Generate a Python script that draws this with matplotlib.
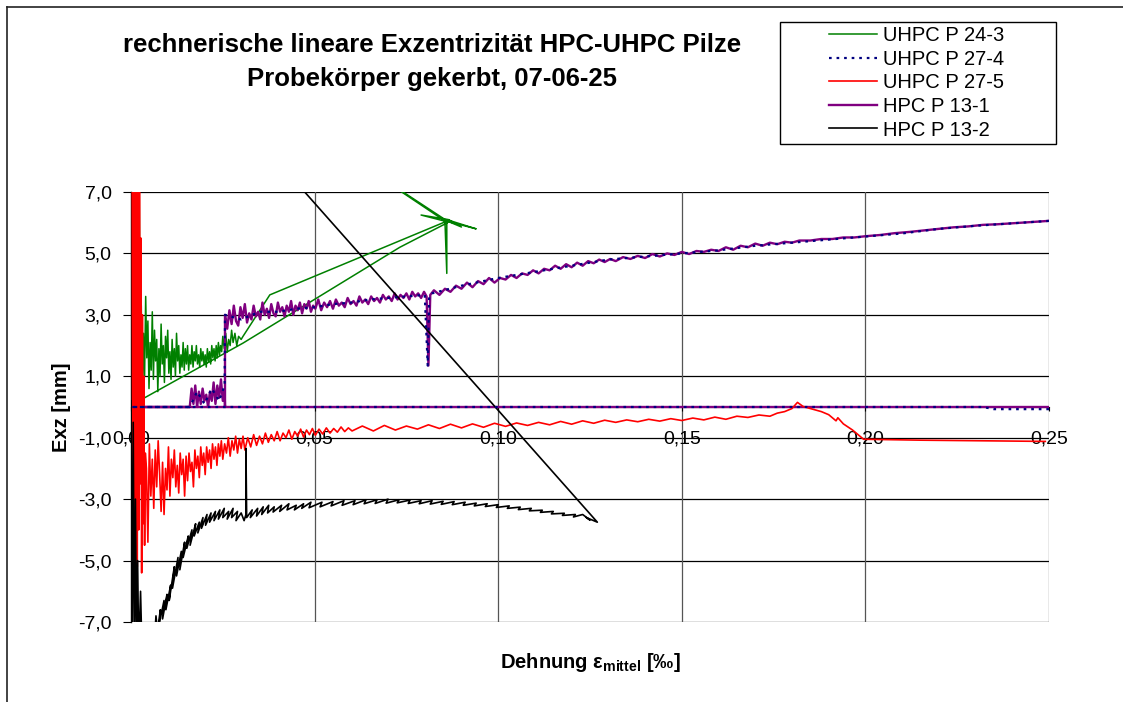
import matplotlib
matplotlib.use("Agg")
import matplotlib.pyplot as plt
from matplotlib.ticker import FuncFormatter, FixedLocator
from matplotlib.lines import Line2D
from matplotlib.patches import Rectangle

plt.rcParams['font.family'] = ['Liberation Sans', 'DejaVu Sans']
plt.rcParams['axes.unicode_minus'] = False
plt.rcParams['mathtext.fontset'] = 'custom'
plt.rcParams['mathtext.bf'] = 'Liberation Sans:bold'
plt.rcParams['mathtext.rm'] = 'Liberation Sans'

# --- Daten ---
labels = ['UHPC P 24-3', 'UHPC P 27-4', 'UHPC P 27-5', 'HPC P 13-1', 'HPC P 13-2']

# UHPC P 24-3 (gruen)
g_x = [0.0010, 0.0013, 0.0016, 0.0019, 0.0022, 0.0025, 0.0028, 0.0031, 0.0034, 0.0037,
       0.0040, 0.0043, 0.0046, 0.0049, 0.0052, 0.0055, 0.0058, 0.0061, 0.0064, 0.0067,
       0.0070, 0.0073, 0.0076, 0.0079, 0.0082, 0.0085, 0.0088, 0.0091, 0.0094, 0.0097,
       0.0100, 0.0103, 0.0106, 0.0109, 0.0112, 0.0115, 0.0118, 0.0121, 0.0124, 0.0127,
       0.0130, 0.0133, 0.0136, 0.0139, 0.0142, 0.0145, 0.0148, 0.0151, 0.0154, 0.0157,
       0.0160, 0.0163, 0.0166, 0.0169, 0.0172, 0.0175, 0.0178, 0.0181, 0.0184, 0.0187,
       0.0190, 0.0193, 0.0196, 0.0199, 0.0202, 0.0205, 0.0208, 0.0211, 0.0214, 0.0217,
       0.0220, 0.0223, 0.0226, 0.0229, 0.0232, 0.0235, 0.0238, 0.0241, 0.0244, 0.0247,
       0.0250, 0.0254, 0.0258, 0.0262, 0.0266, 0.0270, 0.0274, 0.0278, 0.0283, 0.0288,
       0.0293, 0.0300, 0.0305, 0.0378, 0.0860, 0.0940, 0.0860, 0.0860, 0.0855, 0.0790,
       0.0865, 0.0900, 0.0862, 0.0550, 0.0862, 0.0732, 0.0305, 0.0025]
g_y = [9.0, 2.5, 8.5, 0.4, 8.0, 1.5, 3.3, 0.3, 2.4, 1.0,
       3.6, 1.6, 2.8, 0.6, 2.1, 1.2, 3.1, 0.9, 2.5, 1.5,
       2.2, 0.5, 1.9, 1.0, 2.7, 1.4, 2.0, 0.8, 2.3, 1.6,
       2.5, 1.1, 1.8, 0.9, 2.2, 1.3, 1.9, 1.0, 2.4, 1.5,
       2.0, 1.1, 1.7, 1.3, 2.1, 1.2, 1.9, 1.4, 2.0, 1.2,
       1.7, 1.4, 2.0, 1.3, 1.8, 1.5, 2.0, 1.4, 1.7, 1.3,
       1.9, 1.5, 1.8, 1.4, 1.7, 1.3, 1.9, 1.5, 1.8, 1.4,
       2.0, 1.6, 1.9, 1.5, 2.0, 1.6, 2.1, 1.7, 2.0, 1.8,
       2.3, 1.9, 2.4, 1.8, 2.2, 2.0, 2.5, 2.1, 2.4, 2.0,
       2.3, 2.2, 2.3, 3.65, 6.05, 5.80, 6.10, 4.35, 6.05, 6.25,
       6.10, 5.86, 6.05, 8.5, 6.0, 5.2, 2.08, 0.22]

# UHPC P 27-4 (blau gepunktet)
b_x = [0.250, 0.235, 0.232, 0.000, 0.016, 0.018, 0.020, 0.022, 0.024, 0.0255,
       0.0256, 0.030, 0.035, 0.040, 0.045, 0.050, 0.055, 0.060, 0.065, 0.070,
       0.075, 0.080, 0.0808, 0.0812, 0.082, 0.090, 0.100, 0.110, 0.120, 0.130,
       0.140, 0.150, 0.160, 0.170, 0.180, 0.190, 0.200, 0.210, 0.220, 0.230,
       0.240, 0.250]
b_y = [-0.07, -0.07, 0.0, 0.0, 0.0, 0.5, 0.1, 0.6, 0.2, 0.7,
       3.0, 2.85, 3.1, 3.1, 3.2, 3.25, 3.35, 3.4, 3.5, 3.55,
       3.6, 3.65, 1.35, 3.6, 3.7, 3.95, 4.2, 4.4, 4.6, 4.8,
       4.9, 5.0, 5.1, 5.25, 5.35, 5.45, 5.55, 5.65, 5.8, 5.9,
       5.98, 6.06]

# UHPC P 27-5 (rot)
r_x = [0.0003, 0.0005, 0.0007, 0.0009, 0.0011, 0.0013, 0.0015, 0.0017, 0.0019, 0.0021,
       0.0023, 0.0025, 0.0027, 0.0029, 0.0031, 0.0033, 0.0035, 0.0037, 0.0039,
       0.0042, 0.0046, 0.0050, 0.0054, 0.0058, 0.0062, 0.0066, 0.0070, 0.0074, 0.0078,
       0.0082, 0.0086, 0.0090, 0.0094, 0.0098, 0.0102, 0.0106, 0.0110, 0.0114, 0.0118,
       0.0122, 0.0126, 0.0130, 0.0134, 0.0138, 0.0142, 0.0146, 0.0150, 0.0154, 0.0158,
       0.0162, 0.0166, 0.0170, 0.0174, 0.0178, 0.0182, 0.0186, 0.0190, 0.0194, 0.0198,
       0.0202, 0.0206, 0.0210, 0.0214, 0.0218, 0.0222, 0.0226, 0.0230, 0.0234, 0.0238,
       0.0242, 0.0246, 0.0250, 0.0255, 0.0260, 0.0265, 0.0270, 0.0275, 0.0280, 0.0285,
       0.0290, 0.0295, 0.0300, 0.0305, 0.0310, 0.0318, 0.0326, 0.0334, 0.0342, 0.0350,
       0.0358, 0.0366, 0.0374, 0.0382, 0.0390, 0.0398, 0.0406, 0.0414, 0.0422, 0.0430,
       0.0438, 0.0446, 0.0454, 0.0462, 0.0470, 0.0478, 0.0486, 0.0494, 0.0502, 0.0512,
       0.0522, 0.0532, 0.0542, 0.0552, 0.0562, 0.0572, 0.0582, 0.0592, 0.0602,
       0.063, 0.066, 0.069, 0.072, 0.075, 0.078, 0.081, 0.084, 0.087, 0.090,
       0.093, 0.096, 0.099, 0.102, 0.105, 0.108, 0.111, 0.114, 0.117, 0.120,
       0.123, 0.126, 0.129, 0.132, 0.135, 0.138, 0.141, 0.144, 0.147, 0.150,
       0.153, 0.156, 0.159, 0.162, 0.165, 0.168, 0.171, 0.174, 0.176, 0.178,
       0.180, 0.1815, 0.183, 0.185, 0.188, 0.190, 0.192, 0.1925, 0.194, 0.1965,
       0.1995, 0.215, 0.249]
r_y = [9.0, -4.8, 9.0, -5.9, 9.0, -3.5, 9.0, -5.2, 8.0, -4.0,
       9.0, -2.5, 5.5, -5.4, 3.0, -3.8, 1.0, -4.5, -1.5,
       -2.0, -4.4, -1.2, -2.9, -1.7, -3.3, -1.4, -2.6, -1.1, -2.2,
       -3.4, -1.8, -3.5, -2.0, -2.7, -1.3, -2.9, -1.7, -2.3, -1.4,
       -2.6, -1.9, -2.8, -1.5, -2.2, -1.7, -2.9, -1.6, -2.4, -1.5,
       -2.1, -1.8, -2.6, -1.4, -2.0, -1.6, -2.3, -1.3, -1.9, -1.5,
       -2.2, -1.3, -1.8, -1.4, -2.0, -1.2, -1.7, -1.3, -1.9, -1.2,
       -1.6, -1.1, -1.7, -1.2, -1.5, -1.0, -1.6, -1.1, -1.4, -0.95,
       -1.5, -1.05, -1.35, -0.95, -1.4, -1.0, -1.3, -0.9, -1.25, -0.95,
       -1.2, -0.85, -1.15, -0.9, -1.1, -0.8, -1.1, -0.85, -1.0, -0.75,
       -1.05, -0.8, -0.95, -0.72, -0.98, -0.75, -0.9, -0.7, -0.92, -0.72,
       -0.88, -0.68, -0.85, -0.7, -0.82, -0.65, -0.8, -0.68, -0.78,
       -0.62, -0.78, -0.6, -0.75, -0.62, -0.72, -0.58, -0.7, -0.56, -0.68,
       -0.55, -0.66, -0.53, -0.63, -0.52, -0.6, -0.5, -0.58, -0.47, -0.56,
       -0.45, -0.53, -0.43, -0.5, -0.42, -0.48, -0.4, -0.46, -0.38, -0.44,
       -0.36, -0.42, -0.33, -0.4, -0.3, -0.34, -0.26, -0.3, -0.2, -0.15,
       -0.05, 0.15, 0.02, -0.05, -0.15, -0.25, -0.45, -0.35, -0.55, -0.75,
       -1.05, -1.08, -1.12]

# HPC P 13-1 (violett)
p_x = [0.250, 0.000, 0.0160, 0.0165, 0.0170, 0.0175, 0.0180, 0.0185, 0.0190, 0.0195,
       0.0200, 0.0205, 0.0210, 0.0215, 0.0220, 0.0225, 0.0230, 0.0235, 0.0240, 0.0245,
       0.0250, 0.0255, 0.0256,
       0.0256, 0.0262, 0.0268, 0.0274, 0.0280, 0.0286, 0.0292, 0.0298, 0.0304, 0.0310,
       0.0316, 0.0322, 0.0328, 0.0334, 0.0340, 0.0346, 0.0352, 0.0358, 0.0364, 0.0370,
       0.0376, 0.0382, 0.0388, 0.0394, 0.0400, 0.0406, 0.0412, 0.0418, 0.0424, 0.0430,
       0.0436, 0.0442, 0.0448, 0.0454, 0.0460, 0.0466, 0.0472, 0.0478, 0.0484, 0.0490,
       0.0496, 0.0502, 0.0510, 0.0518, 0.0526, 0.0534, 0.0542, 0.0550, 0.0558, 0.0566,
       0.0574, 0.0582, 0.0590, 0.0598, 0.0606, 0.0614, 0.0622, 0.0630, 0.0638, 0.0646,
       0.0654, 0.0662, 0.0670, 0.0678, 0.0686, 0.0694, 0.0702, 0.0710, 0.0718, 0.0726,
       0.0734, 0.0742, 0.0750, 0.0758, 0.0766, 0.0774, 0.0782, 0.0790, 0.0798, 0.0805,
       0.0810, 0.0815, 0.0825, 0.0840, 0.0855, 0.0870, 0.0885, 0.0900, 0.0915, 0.0930,
       0.0945, 0.0960, 0.0975, 0.0990, 0.1005, 0.1020, 0.1035, 0.1050, 0.1065, 0.1080,
       0.1095, 0.1110, 0.1125, 0.1140, 0.1155, 0.1170, 0.1185, 0.1200, 0.1215, 0.1230,
       0.1245, 0.1260, 0.1275, 0.1290, 0.1305, 0.1320, 0.1340, 0.1360, 0.1380, 0.1400,
       0.1420, 0.1440, 0.1460, 0.1480, 0.1500, 0.1520, 0.1540, 0.1560, 0.1580, 0.1600,
       0.1620, 0.1640, 0.1660, 0.1680, 0.1700, 0.1720, 0.1740, 0.1760, 0.1780, 0.1800,
       0.1820, 0.1850, 0.1880, 0.1910, 0.1940, 0.1970, 0.2000, 0.2040, 0.2080, 0.2120,
       0.2160, 0.2200, 0.2240, 0.2280, 0.2320, 0.2360, 0.2400, 0.2450, 0.2500]
p_y = [0.0, 0.0, 0.0, 0.6, 0.1, 0.7, 0.0, 0.5, 0.1, 0.6,
       0.2, 0.4, 0.0, 0.5, 0.2, 0.8, 0.1, 0.7, 0.3, 0.9,
       0.2, 0.5, 0.0,
       3.0, 2.55, 3.15, 2.7, 3.3, 2.8, 2.65, 3.25, 2.9, 3.35,
       2.75, 3.05, 2.85, 3.3, 2.95, 3.1, 2.85, 3.4, 3.0, 3.2,
       2.9, 3.35, 3.05, 2.95, 3.4, 3.1, 3.25, 2.95, 3.3, 3.1,
       3.45, 3.0, 3.3, 3.15, 3.4, 3.05, 3.35, 3.2, 3.45, 3.1,
       3.3, 3.2, 3.5, 3.15, 3.4, 3.25, 3.45, 3.2, 3.5, 3.3,
       3.4, 3.25, 3.55, 3.35, 3.45, 3.3, 3.6, 3.4, 3.5, 3.35,
       3.6, 3.45, 3.55, 3.4, 3.65, 3.5, 3.6, 3.45, 3.7, 3.5,
       3.65, 3.55, 3.7, 3.5, 3.75, 3.6, 3.7, 3.55, 3.75, 3.6,
       1.35, 3.65, 3.8, 3.65, 3.85, 3.75, 3.95, 3.85, 4.05, 3.9,
       4.1, 4.0, 4.2, 4.05, 4.2, 4.15, 4.3, 4.2, 4.35, 4.3,
       4.45, 4.35, 4.5, 4.45, 4.6, 4.5, 4.65, 4.55, 4.7, 4.6,
       4.75, 4.68, 4.8, 4.72, 4.82, 4.75, 4.88, 4.82, 4.92, 4.85,
       4.98, 4.9, 5.0, 4.95, 5.05, 4.98, 5.08, 5.05, 5.12, 5.08,
       5.2, 5.12, 5.25, 5.2, 5.32, 5.25, 5.35, 5.3, 5.38, 5.35,
       5.42, 5.42, 5.47, 5.47, 5.52, 5.52, 5.56, 5.6, 5.66, 5.7,
       5.75, 5.8, 5.85, 5.88, 5.93, 5.95, 5.98, 6.02, 6.06]

# HPC P 13-2 (schwarz)
k_x = [0.0000, 0.0003, 0.0006, 0.0009, 0.0012, 0.0015, 0.0018, 0.0021, 0.0026, 0.0030,
       0.0064, 0.0068, 0.0072, 0.0080, 0.0078, 0.0090, 0.0086, 0.0098, 0.0095, 0.0108,
       0.0104, 0.0118, 0.0113, 0.0128, 0.0124, 0.0137, 0.0133, 0.0146, 0.0142, 0.0156,
       0.0152, 0.0166, 0.0161, 0.0176, 0.0172, 0.0186, 0.0182, 0.0196, 0.0192, 0.0207,
       0.0203, 0.0218, 0.0214, 0.0230, 0.0226, 0.0242, 0.0238, 0.0254, 0.0250, 0.0266,
       0.0262, 0.0278, 0.0274, 0.0290, 0.0286, 0.0300, 0.0308, 0.0313, 0.0313, 0.0315,
       0.0330, 0.0325, 0.0345, 0.0342, 0.0360, 0.0356, 0.0375, 0.0372, 0.0390, 0.0387,
       0.0410, 0.0405, 0.0430, 0.0425, 0.0450, 0.0445, 0.0470, 0.0465, 0.0490, 0.0485,
       0.0520, 0.0515, 0.0550, 0.0545, 0.0580, 0.0575, 0.0610, 0.0605, 0.0640, 0.0635,
       0.0670, 0.0665, 0.0700, 0.0695, 0.0730, 0.0725, 0.0760, 0.0755, 0.0790, 0.0785,
       0.0820, 0.0815, 0.0850, 0.0845, 0.0880, 0.0875, 0.0910, 0.0905, 0.0940, 0.0935,
       0.0970, 0.0965, 0.1000, 0.0995, 0.1030, 0.1025, 0.1060, 0.1055, 0.1090, 0.1085,
       0.1120, 0.1115, 0.1150, 0.1145, 0.1180, 0.1175, 0.1210, 0.1205, 0.1230, 0.1250,
       0.1240, 0.1270, 0.0436]
k_y = [0.2, -8.0, -0.5, -8.0, -3.0, -8.0, -5.0, -8.0, -6.0, -8.0,
       -7.6, -6.8, -7.3, -6.6, -7.0, -6.3, -6.9, -6.1, -6.6, -5.8,
       -6.3, -5.2, -5.9, -4.9, -5.5, -4.7, -5.3, -4.4, -4.9, -4.2,
       -4.6, -4.0, -4.5, -3.8, -4.2, -3.75, -4.1, -3.6, -3.95, -3.5,
       -3.85, -3.45, -3.75, -3.4, -3.7, -3.35, -3.65, -3.3, -3.6, -3.4,
       -3.65, -3.3, -3.6, -3.4, -3.7, -3.45, -3.7, -3.5, -1.35, -3.6,
       -3.35, -3.6, -3.3, -3.55, -3.25, -3.5, -3.2, -3.45, -3.25, -3.42,
       -3.2, -3.4, -3.15, -3.35, -3.2, -3.35, -3.15, -3.3, -3.1, -3.28,
       -3.1, -3.25, -3.08, -3.22, -3.05, -3.2, -3.05, -3.18, -3.02, -3.15,
       -3.02, -3.14, -3.0, -3.13, -3.02, -3.12, -3.03, -3.14, -3.05, -3.15,
       -3.05, -3.16, -3.07, -3.17, -3.08, -3.18, -3.1, -3.2, -3.13, -3.22,
       -3.15, -3.24, -3.18, -3.27, -3.22, -3.3, -3.26, -3.34, -3.3, -3.38,
       -3.36, -3.43, -3.4, -3.48, -3.46, -3.53, -3.5, -3.58, -3.5, -3.68,
       -3.6, -3.75, 7.5]

x_ticks = [0.00, 0.05, 0.10, 0.15, 0.20, 0.25]
y_ticks = [-7, -5, -3, -1, 1, 3, 5, 7]

W, H = 1123, 702
fig = plt.figure(figsize=(W / 100, H / 100), dpi=100)
ax = fig.add_axes([131 / W, 1 - 622 / H, (1049 - 131) / W, (622 - 192) / H])

ax.plot(g_x, g_y, color='#008000', lw=1.1, label=labels[0], zorder=2)
ax.plot(b_x, b_y, color='#000080', lw=1.6, ls=(0, (1.2, 2.2)), label=labels[1], zorder=4)
ax.plot(r_x, r_y, color='#FF0000', lw=1.2, label=labels[2], zorder=3)
ax.plot(p_x, p_y, color='#800080', lw=1.7, label=labels[3], zorder=2.5)
ax.plot(k_x, k_y, color='black', lw=1.2, label=labels[4], zorder=3.5)

ax.set_xlim(0, 0.25)
ax.set_ylim(-7, 7)

# Gitter
for yv in y_ticks:
    ax.axhline(yv, color='black', lw=0.9, zorder=1)
for xv in x_ticks[1:]:
    ax.axvline(xv, color='#555555', lw=0.9, zorder=1)

for s in ['top', 'right']:
    ax.spines[s].set_visible(False)
ax.spines['bottom'].set_position(('data', 0))
ax.spines['bottom'].set_zorder(1.5)
ax.spines['left'].set_linewidth(1.0)

ax.xaxis.set_major_locator(FixedLocator(x_ticks))
ax.yaxis.set_major_locator(FixedLocator(y_ticks))
ax.xaxis.set_major_formatter(FuncFormatter(lambda v, _: f"{v:.2f}".replace('.', ',')))
ax.yaxis.set_major_formatter(FuncFormatter(lambda v, _: f"{v:.1f}".replace('.', ',')))
ax.tick_params(axis='x', direction='out', length=3, pad=14, labelsize=14)
ax.tick_params(axis='y', direction='out', length=6, pad=8, labelsize=14)

ax.set_ylabel('Exz [mm]', fontsize=14.5, fontweight='bold', labelpad=5)
fig.text(590 / W, 1 - 662 / H, r'Dehnung ε$_{\mathbf{mittel}}$ [‰]', fontsize=14.5,
         fontweight='bold', ha='center', va='center')

fig.text(432 / W, 1 - 45 / H, 'rechnerische lineare Exzentrizität HPC-UHPC Pilze',
         fontsize=18.5, fontweight='bold', ha='center', va='center')
fig.text(432 / W, 1 - 79 / H, 'Probekörper gekerbt, 07-06-25',
         fontsize=18.5, fontweight='bold', ha='center', va='center')

# Legende
fig.patches.append(Rectangle((780 / W, 1 - 144 / H), (1056 - 780) / W, (144 - 22) / H,
                             transform=fig.transFigure, fill=False, edgecolor='black', lw=1.0))
fig.legend(loc='upper left', bbox_to_anchor=(829 / W, 1 - 26 / H), frameon=False,
           fontsize=14.5, handlelength=2.4, handletextpad=0.3, borderpad=0,
           borderaxespad=0, labelspacing=0.23)

# Rahmen
fig.add_artist(Line2D([7 / W, 7 / W], [0, 1 - 7 / H], transform=fig.transFigure, color='#222222', lw=1.2))
fig.add_artist(Line2D([7 / W, 1], [1 - 7 / H, 1 - 7 / H], transform=fig.transFigure, color='#222222', lw=1.2))

fig.savefig('out.png', dpi=100)
